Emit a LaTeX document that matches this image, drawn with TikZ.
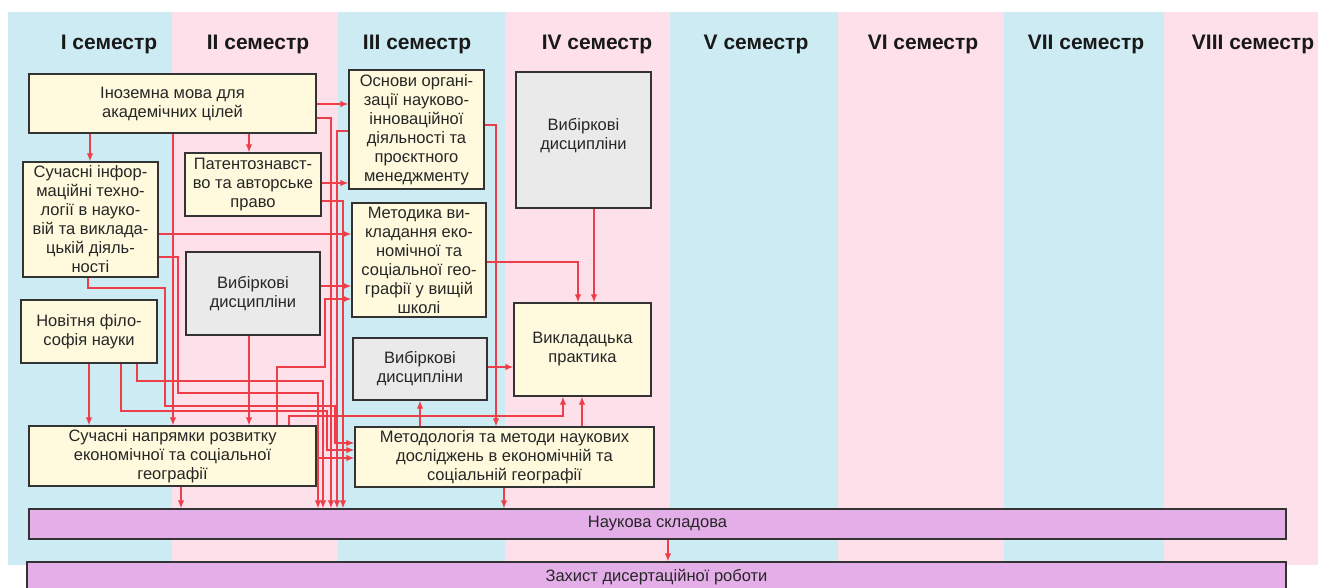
\documentclass[tikz,border=0pt]{standalone}
\usepackage{fontspec}
\setmainfont{Liberation Sans}
\usetikzlibrary{arrows.meta,calc}
\definecolor{bgblue}{RGB}{205,235,243}
\definecolor{bgpink}{RGB}{253,224,234}
\definecolor{cream}{RGB}{255,250,221}
\definecolor{boxgray}{RGB}{234,234,234}
\definecolor{purp}{RGB}{228,174,232}
\definecolor{ared}{RGB}{238,62,74}
\definecolor{edgec}{RGB}{51,51,51}
\tikzset{
 cbox/.style={draw=edgec, line width=1.3pt, fill=cream, align=center, inner sep=0pt, text=black!85, font=\fontsize{16.5}{19}\selectfont},
 gbox/.style={cbox, fill=boxgray},
 pbox/.style={draw=edgec, line width=1.3pt, fill=purp, inner sep=0pt, text=black!85, font=\fontsize{16.5}{19}\selectfont},
 sem/.style={font=\fontsize{21}{25}\selectfont\bfseries, text=black!90},
 ar/.style={draw=ared, line width=1.3pt, -{Latex[length=8pt,width=6.5pt]}},
}
\begin{document}
\begin{tikzpicture}[x=1pt,y=-1pt]
\useasboundingbox (0,0) rectangle (1318,587);
\clip (0,0) rectangle (1318,587);
\fill[white] (0,0) rectangle (1318,587);
% columns
\fill[bgblue] (8,12) rectangle (172,565);
\fill[bgpink] (172,12) rectangle (338,565);
\fill[bgblue] (338,12) rectangle (505,565);
\fill[bgpink] (505,12) rectangle (670,565);
\fill[bgblue] (670,12) rectangle (838,565);
\fill[bgpink] (838,12) rectangle (1004,565);
\fill[bgblue] (1004,12) rectangle (1164,565);
\fill[bgpink] (1164,12) rectangle (1318,565);
% semester titles
\node[sem] (s1) at (109,44) {I семестр};
\node[sem] (s2) at (258,44) {II семестр};
\node[sem] (s3) at (417,44) {III семестр};
\node[sem] (s4) at (597,44) {IV семестр};
\node[sem] (s5) at (756,44) {V семестр};
\node[sem] (s6) at (923,44) {VI семестр};
\node[sem] (s7) at (1086,44) {VII семестр};
\node[sem] (s8) at (1253,44) {VIII семестр};
% boxes
\node[cbox, minimum width=287pt, minimum height=59pt] (ino) at (172.5,103.5) {Іноземна мова для\\академічних цілей};
\node[cbox, minimum width=135pt, minimum height=119pt] (osn) at (416.5,129.5) {Основи органі-\\зації науково-\\інноваційної\\діяльності та\\проєктного\\менеджменту};
\node[gbox, minimum width=135pt, minimum height=136pt] (vib4) at (583.5,140) {};
\node[font=\fontsize{16.5}{19}\selectfont, text=black!85, align=center] (vib4t) at (583.5,136) {Вибіркові\\дисципліни};
\node[cbox, minimum width=135pt, minimum height=115pt] (suc) at (90.5,219.5) {Сучасні інфор-\\маційні техно-\\логії в науко-\\вій та виклада-\\цькій діяль-\\ності};
\node[cbox, minimum width=136pt, minimum height=63pt] (pat) at (253,184.5) {Патентознавст-\\во та авторське\\право};
\node[cbox, minimum width=134pt, minimum height=114pt] (met) at (419,260) {Методика ви-\\кладання еко-\\номічної та\\соціальної гео-\\графії у вищій\\школі};
\node[gbox, minimum width=134pt, minimum height=83pt] (vib2) at (253,293.5) {Вибіркові\\дисципліни};
\node[cbox, minimum width=136pt, minimum height=63pt] (nov) at (89,331.5) {Новітня філо-\\софія науки};
\node[gbox, minimum width=134pt, minimum height=62pt] (vib3) at (420,369) {Вибіркові\\дисципліни};
\node[cbox, minimum width=137pt, minimum height=93pt] (vyk) at (582.5,349.5) {Викладацька\\практика};
\node[cbox, minimum width=287pt, minimum height=60pt] (nap) at (172.5,456) {Сучасні напрямки розвитку\\економічної та соціальної\\географії};
\node[cbox, minimum width=299pt, minimum height=60pt] (mtd) at (504.5,457) {Методологія та методи наукових\\досліджень в економічній та\\соціальній географії};
\node[pbox, minimum width=1257pt, minimum height=30pt] (nauk) at (657.5,524) {Наукова складова};
\node[pbox, minimum width=1259pt, minimum height=30pt] (zah) at (656.5,577) {Захист дисертаційної роботи};
% connectors
\draw[ar] (ino.east |- 0,104) -- (osn.west |- 0,104);
\draw[ar] (ino.east |- 0,118) -| (nauk.north -| 331,0);
\draw[ar] (ino.south -| 90,0) -- (suc.north -| 90,0);
\draw[ar] (ino.south -| 173,0) -- (nap.north -| 173,0);
\draw[ar] (ino.south -| 249,0) -- (pat.north -| 249,0);
\draw[ar] (osn.west |- 0,131) -| (nauk.north -| 337,0);
\draw[ar] (osn.east |- 0,125) -| (mtd.north -| 496,0);
\draw[ar] (pat.east |- 0,183) -- (osn.west |- 0,183);
\draw[ar] (pat.east |- 0,201) -| (nauk.north -| 343,0);
\draw[ar] (suc.east |- 0,234) -- (met.west |- 0,234);
\draw[ar] (suc.east |- 0,257) -| (178,393) -| (nauk.north -| 318,0);
\draw[ar] (suc.south -| 88,0) |- (165,288) |- (335,406) |- (mtd.west |- 0,443);
\draw[ar] (vib2.east |- 0,286) -- (met.west |- 0,286);
\draw[ar] (vib2.south -| 249,0) -- (nap.north -| 249,0);
\draw[ar] (nov.south -| 89,0) -- (nap.north -| 89,0);
\draw[ar] (nov.south -| 121,0) |- (327,411) |- (mtd.west |- 0,450);
\draw[ar] (nov.south -| 137,0) |- (323,381) -- (nauk.north -| 323,0);
\draw[ar] (nap.north -| 277,0) |- (325,367) |- (met.west |- 0,299);
\draw[ar] (nap.north -| 289,0) |- (563,416) -- (vyk.south -| 563,0);
\draw[ar] (nap.east |- 0,458) -- (mtd.west |- 0,458);
\draw[ar] (nap.south -| 181,0) -- (nauk.north -| 181,0);
\draw[ar] (mtd.north -| 420,0) -- (vib3.south -| 420,0);
\draw[ar] (mtd.north -| 582,0) -- (vyk.south -| 582,0);
\draw[ar] (mtd.south -| 504,0) -- (nauk.north -| 504,0);
\draw[ar] (met.east |- 0,262) -| (vyk.north -| 578,0);
\draw[ar] (vib4.south -| 594,0) -- (vyk.north -| 594,0);
\draw[ar] (vib3.east |- 0,367) -- (vyk.west |- 0,367);
\draw[ar] (nauk.south -| 668,0) -- (zah.north -| 668,0);
\end{tikzpicture}
\end{document}
